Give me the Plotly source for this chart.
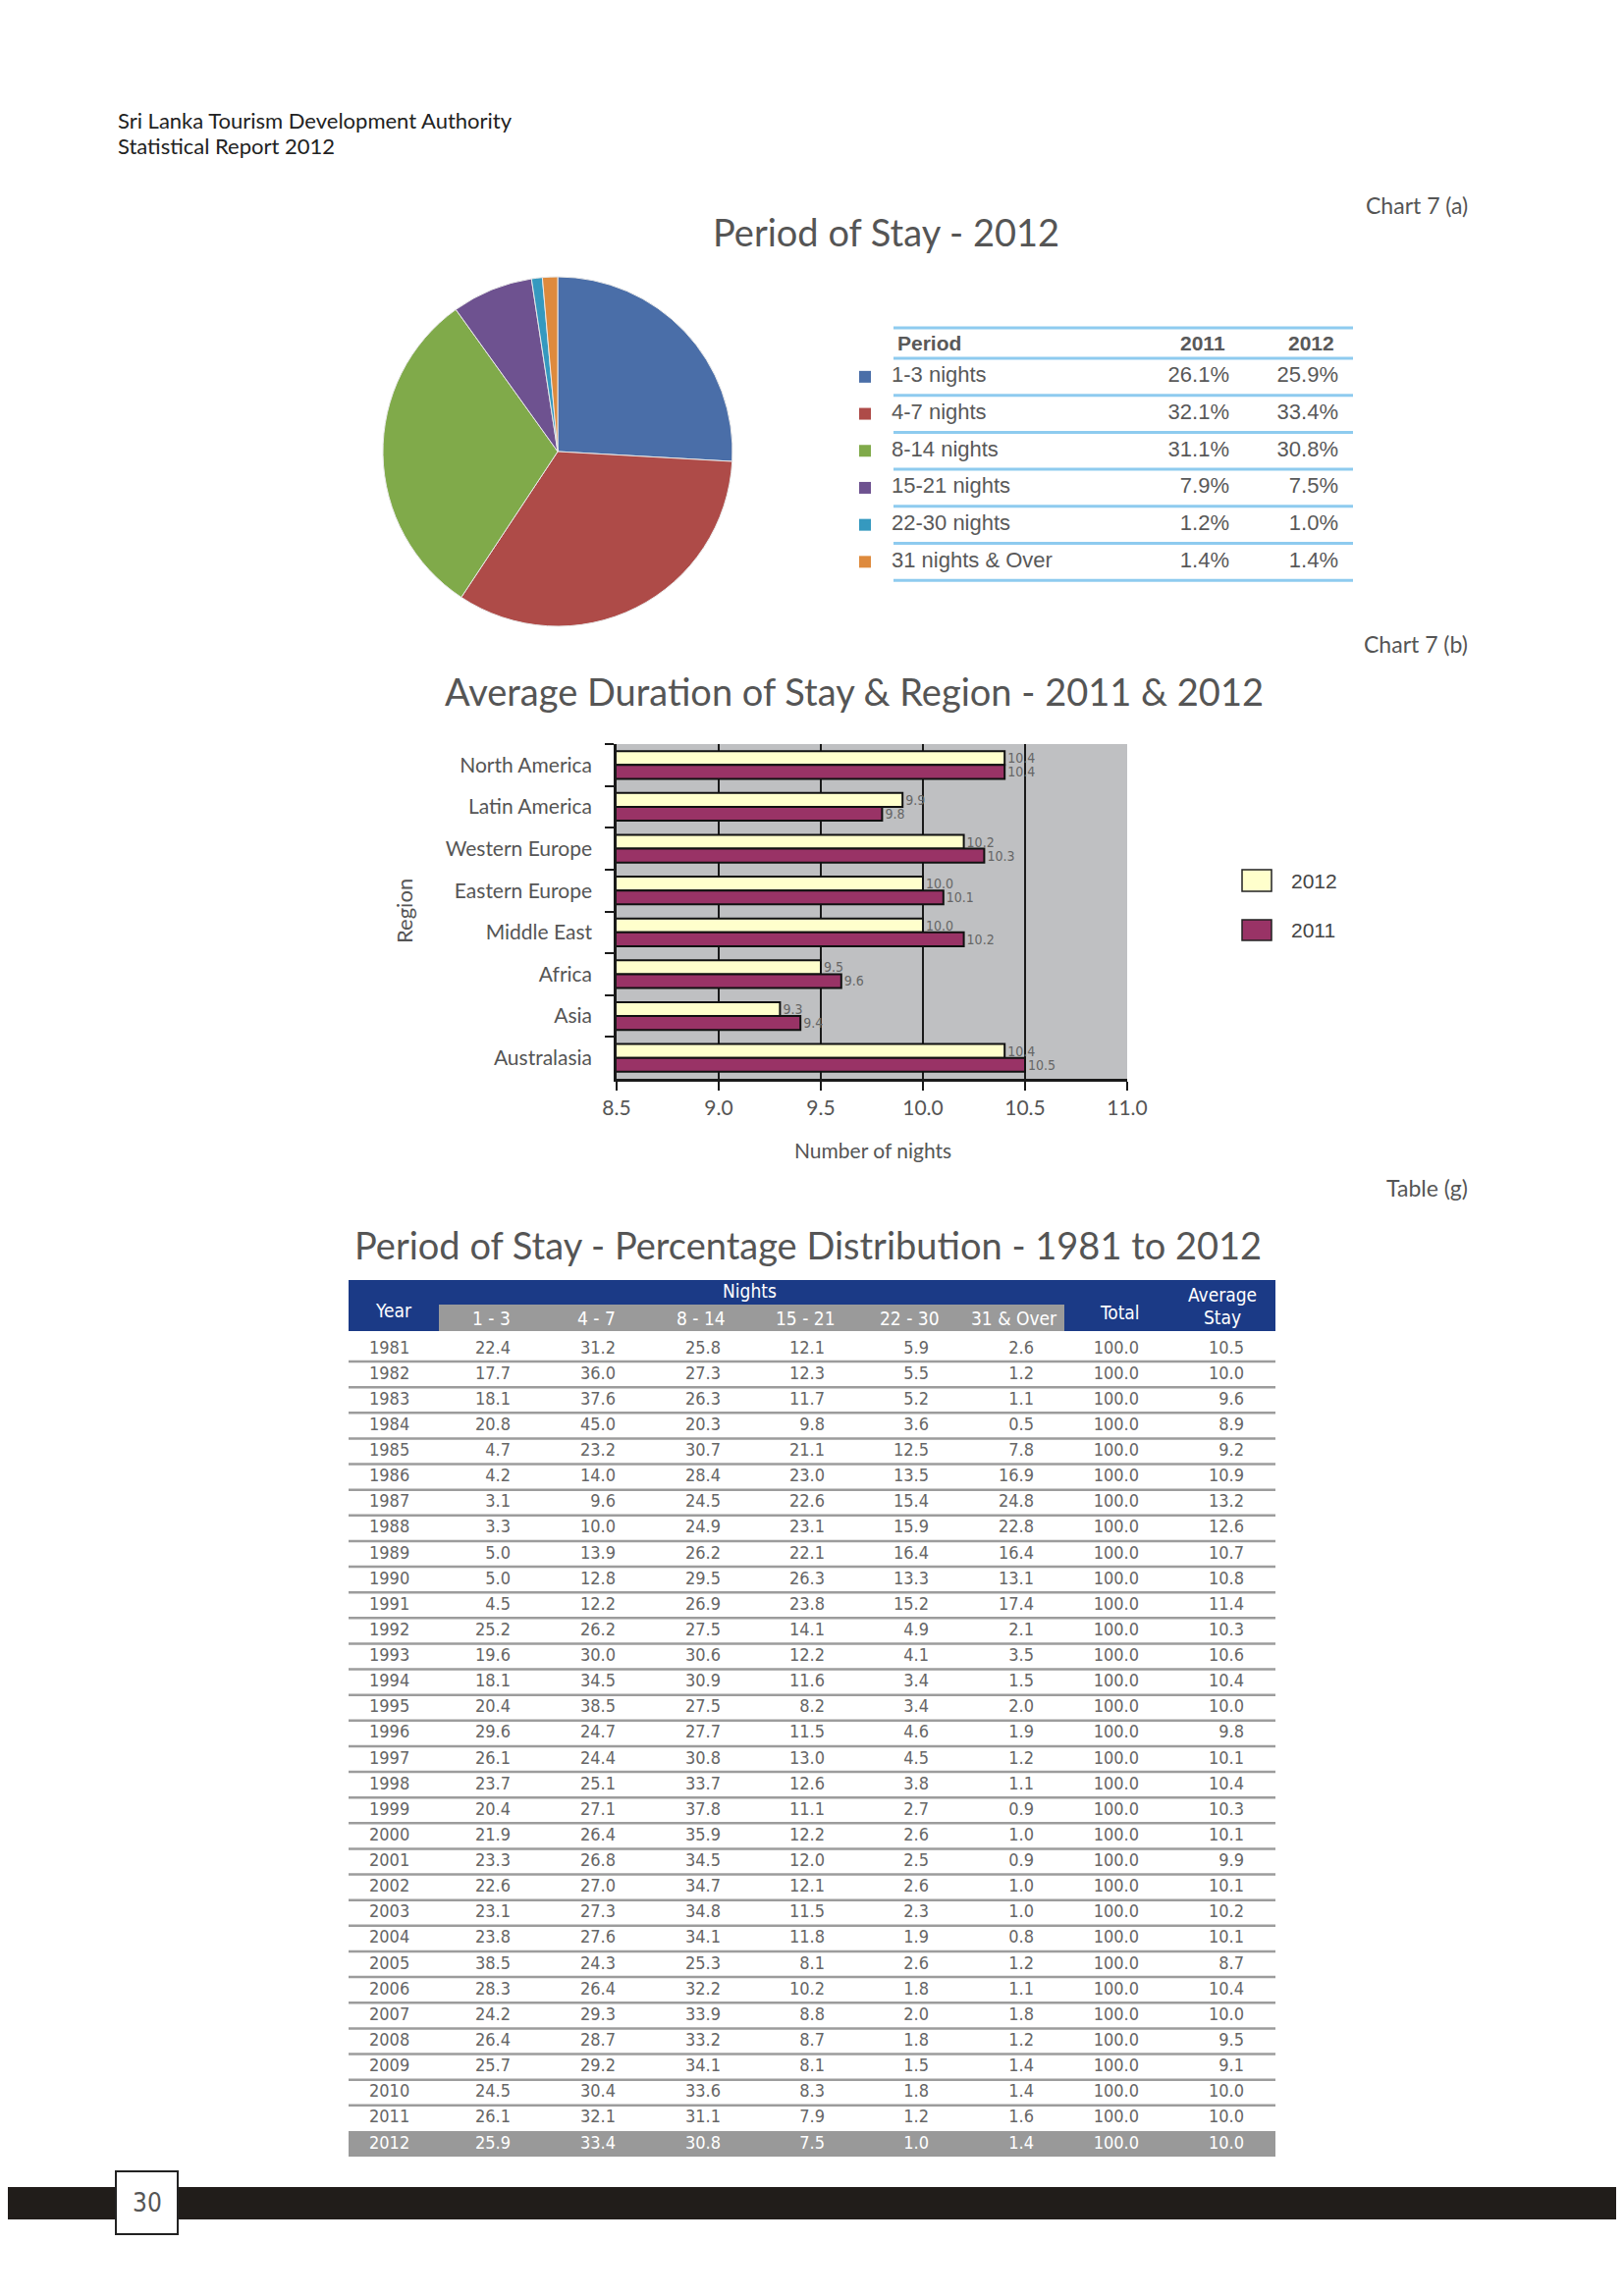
import plotly.graph_objects as go

# ---------------- data ----------------
periods = ["1-3 nights", "4-7 nights", "8-14 nights", "15-21 nights", "22-30 nights", "31 nights & Over"]
share_2011 = [26.1, 32.1, 31.1, 7.9, 1.2, 1.4]
share_2012 = [25.9, 33.4, 30.8, 7.5, 1.0, 1.4]
period_colors = ["#4A6EA8", "#AE4B48", "#80AA4A", "#6E5290", "#3599BF", "#DE8A3D"]

regions = ["North America", "Latin America", "Western Europe", "Eastern Europe",
           "Middle East", "Africa", "Asia", "Australasia"]
stay_2012 = [10.4, 9.9, 10.2, 10.0, 10.0, 9.5, 9.3, 10.4]
stay_2011 = [10.4, 9.8, 10.3, 10.1, 10.2, 9.6, 9.4, 10.5]

years = [1981, 1982, 1983, 1984, 1985, 1986, 1987, 1988, 1989, 1990, 1991, 1992, 1993, 1994, 1995, 1996,
         1997, 1998, 1999, 2000, 2001, 2002, 2003, 2004, 2005, 2006, 2007, 2008, 2009, 2010, 2011, 2012]
n1_3 = [22.4, 17.7, 18.1, 20.8, 4.7, 4.2, 3.1, 3.3, 5.0, 5.0, 4.5, 25.2, 19.6, 18.1, 20.4, 29.6,
        26.1, 23.7, 20.4, 21.9, 23.3, 22.6, 23.1, 23.8, 38.5, 28.3, 24.2, 26.4, 25.7, 24.5, 26.1, 25.9]
n4_7 = [31.2, 36.0, 37.6, 45.0, 23.2, 14.0, 9.6, 10.0, 13.9, 12.8, 12.2, 26.2, 30.0, 34.5, 38.5, 24.7,
        24.4, 25.1, 27.1, 26.4, 26.8, 27.0, 27.3, 27.6, 24.3, 26.4, 29.3, 28.7, 29.2, 30.4, 32.1, 33.4]
n8_14 = [25.8, 27.3, 26.3, 20.3, 30.7, 28.4, 24.5, 24.9, 26.2, 29.5, 26.9, 27.5, 30.6, 30.9, 27.5, 27.7,
         30.8, 33.7, 37.8, 35.9, 34.5, 34.7, 34.8, 34.1, 25.3, 32.2, 33.9, 33.2, 34.1, 33.6, 31.1, 30.8]
n15_21 = [12.1, 12.3, 11.7, 9.8, 21.1, 23.0, 22.6, 23.1, 22.1, 26.3, 23.8, 14.1, 12.2, 11.6, 8.2, 11.5,
          13.0, 12.6, 11.1, 12.2, 12.0, 12.1, 11.5, 11.8, 8.1, 10.2, 8.8, 8.7, 8.1, 8.3, 7.9, 7.5]
n22_30 = [5.9, 5.5, 5.2, 3.6, 12.5, 13.5, 15.4, 15.9, 16.4, 13.3, 15.2, 4.9, 4.1, 3.4, 3.4, 4.6,
          4.5, 3.8, 2.7, 2.6, 2.5, 2.6, 2.3, 1.9, 2.6, 1.8, 2.0, 1.8, 1.5, 1.8, 1.2, 1.0]
n31_over = [2.6, 1.2, 1.1, 0.5, 7.8, 16.9, 24.8, 22.8, 16.4, 13.1, 17.4, 2.1, 3.5, 1.5, 2.0, 1.9,
            1.2, 1.1, 0.9, 1.0, 0.9, 1.0, 1.0, 0.8, 1.2, 1.1, 1.8, 1.2, 1.4, 1.4, 1.6, 1.4]
total = [100.0, 100.0, 100.0, 100.0, 100.0, 100.0, 100.0, 100.0, 100.0, 100.0, 100.0, 100.0, 100.0, 100.0, 100.0, 100.0,
         100.0, 100.0, 100.0, 100.0, 100.0, 100.0, 100.0, 100.0, 100.0, 100.0, 100.0, 100.0, 100.0, 100.0, 100.0, 100.0]
avg_stay = [10.5, 10.0, 9.6, 8.9, 9.2, 10.9, 13.2, 12.6, 10.7, 10.8, 11.4, 10.3, 10.6, 10.4, 10.0, 9.8,
            10.1, 10.4, 10.3, 10.1, 9.9, 10.1, 10.2, 10.1, 8.7, 10.4, 10.0, 9.5, 9.1, 10.0, 10.0, 10.0]
night_bands = ["1 - 3", "4 - 7", "8 - 14", "15 - 21", "22 - 30", "31 & Over"]

# ---------------- page geometry (screen pixels) ----------------
PAGE_W, PAGE_H = 1654, 2339
OFF = 8  # body margin round the figure
W, H = PAGE_W - 2 * OFF, PAGE_H - 2 * OFF  # figure fits the window exactly
LATO = "Lato, Open Sans, sans-serif"
NARROW = "Liberation Sans Narrow, DejaVu Sans Condensed, sans-serif"
ARIAL = "Liberation Sans, Arial, sans-serif"
GREY = "#555555"


def dom_x(a, b):
    return [(a - OFF) / W, (b - OFF) / W]


def dom_y(a, b):
    return [1 - (b - OFF) / H, 1 - (a - OFF) / H]


fig = go.Figure()
annotations = []
shapes = []


def label(x, y, s, size, color=GREY, family=LATO, anchor="center", angle=0):
    annotations.append(dict(x=x, y=y, xref="x", yref="y", text=s, showarrow=False,
                            xanchor=anchor, yanchor="middle", textangle=angle,
                            font=dict(size=size, color=color, family=family)))


def rect(x0, y0, x1, y1, fill, line_color=None, line_width=0):
    shapes.append(dict(type="rect", xref="x", yref="y", x0=x0, y0=y0, x1=x1, y1=y1,
                       fillcolor=fill, line=dict(color=line_color or fill, width=line_width),
                       layer="below"))


def hline(x0, x1, y, color, width):
    shapes.append(dict(type="line", xref="x", yref="y", x0=x0, x1=x1, y0=y, y1=y,
                       line=dict(color=color, width=width), layer="below"))


# page header / captions
label(118, 122, "Sri Lanka Tourism Development Authority", 22, "#222222", anchor="left")
label(118, 148, "Statistical Report 2012", 22, "#222222", anchor="left")
label(1497, 209, "Chart 7 (a)", 23, anchor="right")
label(1497, 656, "Chart 7 (b)", 23, anchor="right")
label(1497, 1210, "Table (g)", 23, anchor="right")
label(902, 236, "Period of Stay - 2012", 38)
label(870, 704, "Average Duration of Stay & Region - 2011 & 2012", 38)
label(823, 1268, "Period of Stay - Percentage Distribution - 1981 to 2012", 38)

# ---------------- pie ----------------
cx, cy, r = 568, 460, 178
fig.add_trace(go.Pie(labels=periods, values=share_2012, sort=False, direction="clockwise", rotation=0,
                     marker=dict(colors=period_colors, line=dict(color="#E8E8E8", width=1)),
                     textinfo="none", hoverinfo="label+percent",
                     domain=dict(x=dom_x(cx - r, cx + r), y=dom_y(cy - r, cy + r))))

# pie legend table
lt_left, lt_right = 910, 1378
lt_top, lt_head = 334, 365
lt_pitch = 37.7
row_c = [lt_head + lt_pitch * (i + 0.5) for i in range(len(periods))]
hline(lt_left, lt_right, lt_top, "#8ECBEF", 3)
hline(lt_left, lt_right, lt_head, "#8ECBEF", 3)
for yc in row_c:
    hline(lt_left, lt_right, yc + lt_pitch / 2, "#8ECBEF", 3)
label(912, 349, "<b>Period</b>", 21, "#595959", ARIAL, "left")
label(1250, 349, "<b>2011</b>", 21, "#595959", ARIAL, "right")
label(1361, 349, "<b>2012</b>", 21, "#595959", ARIAL, "right")

fig.add_trace(go.Scatter(x=[881] * len(periods), y=row_c, mode="markers", hoverinfo="skip",
                         marker=dict(symbol="square", size=12, color=period_colors),
                         xaxis="x", yaxis="y"))
fig.add_trace(go.Scatter(x=[908] * len(periods), y=row_c, mode="text", text=periods,
                         textposition="middle right", hoverinfo="skip",
                         textfont=dict(family=ARIAL, size=22, color="#595959")))
for vals, xr in ((share_2011, 1252), (share_2012, 1363)):
    fig.add_trace(go.Scatter(x=[xr] * len(vals), y=row_c, mode="text",
                             text=[f"{v:.1f}%" for v in vals], textposition="middle left",
                             hoverinfo="skip", textfont=dict(family=ARIAL, size=22, color="#595959")))

# ---------------- bar chart ----------------
bar_x0, bar_x1, bar_y0, bar_y1 = 628, 1148, 758, 1099
shapes.append(dict(type="rect", xref="x2 domain", yref="y2 domain", x0=0, x1=1, y0=0, y1=1,
                   fillcolor="#BFC0C2", line=dict(width=0), layer="below"))
fig.add_trace(go.Bar(y=regions, x=stay_2012, orientation="h", name="2012", xaxis="x2", yaxis="y2",
                     marker=dict(color="#FFFFCC", line=dict(color="#111111", width=2)),
                     text=[f"{v:.1f}" for v in stay_2012], textposition="outside", constraintext="none",
                     textfont=dict(family=NARROW, size=14, color="#666666")))
fig.add_trace(go.Bar(y=regions, x=stay_2011, orientation="h", name="2011", xaxis="x2", yaxis="y2",
                     marker=dict(color="#993366", line=dict(color="#111111", width=2)),
                     text=[f"{v:.1f}" for v in stay_2011], textposition="outside", constraintext="none",
                     textfont=dict(family=NARROW, size=14, color="#666666")))
label(411, 928, "Region", 22, angle=-90)
label(889, 1171, "Number of nights", 21)

# bar legend
rect(1265, 886, 1295, 908, "#FFFFCC", "#222222", 1.5)
rect(1265, 937, 1295, 958, "#993366", "#222222", 1.5)
label(1313, 897, "2012", 21, "#444444", ARIAL, "left")
label(1313, 947, "2011", 21, "#444444", ARIAL, "left")

# ---------------- data table ----------------
tb_left, tb_right = 355, 1299
rect(tb_left, 1304, tb_right, 1356, "#1B3A86")
rect(447, 1329, 1084, 1356, "#9A9A9A")
col_right = [520, 627, 734, 840, 946, 1053, 1160, 1267]
label(401, 1335, "Year", 19, "white", NARROW)
label(763, 1315, "Nights", 19, "white", NARROW)
for band, xr in zip(night_bands, col_right):
    label(xr - 20, 1343, band, 19, "white", NARROW)
label(1140, 1337, "Total", 19, "white", NARROW)
label(1245, 1319, "Average", 19, "white", NARROW)
label(1245, 1342, "Stay", 19, "white", NARROW)

pitch = 26.13
rows_y = [1374 + pitch * i for i in range(len(years))]
for yc in rows_y[:-2]:
    hline(tb_left, tb_right, yc + 13, "#9C9C9C", 2.5)
rect(tb_left, rows_y[-1] - 13, tb_right, rows_y[-1] + 13, "#999999")
text_colors = ["#666666"] * (len(years) - 1) + ["white"]

fig.add_trace(go.Scatter(x=[376] * len(years), y=rows_y, mode="text", text=[str(y) for y in years],
                         textposition="middle right", hoverinfo="skip",
                         textfont=dict(family=NARROW, size=18, color=text_colors)))
for vals, xr in zip([n1_3, n4_7, n8_14, n15_21, n22_30, n31_over, total, avg_stay], col_right):
    fig.add_trace(go.Scatter(x=[xr] * len(vals), y=rows_y, mode="text",
                             text=[f"{v:.1f}" for v in vals], textposition="middle left",
                             hoverinfo="skip", textfont=dict(family=NARROW, size=18, color=text_colors)))

# ---------------- footer ----------------
rect(0, 2228, PAGE_W, 2261, "#211D1A")
shapes.append(dict(type="rect", xref="x", yref="y", x0=118, x1=181, y0=2212, y1=2276,
                   fillcolor="white", line=dict(color="#222222", width=2), layer="above"))
label(150, 2244, "30", 26, GREY, NARROW)

fig.update_layout(
    width=W, height=H, autosize=False, margin=dict(l=0, r=0, t=0, b=0, pad=0, autoexpand=False),
    paper_bgcolor="white", plot_bgcolor="rgba(0,0,0,0)", showlegend=False,
    barmode="group", bargap=0.34, bargroupgap=0,
    xaxis=dict(domain=[0, 1], range=[OFF, OFF + W], visible=False, fixedrange=True),
    yaxis=dict(domain=[0, 1], range=[OFF + H, OFF], visible=False, fixedrange=True),
    xaxis2=dict(domain=dom_x(bar_x0, bar_x1), anchor="y2", range=[8.5, 11], dtick=0.5, tickformat=".1f",
                showgrid=True, gridcolor="#1A1A1A", gridwidth=1.5, zeroline=False,
                showline=True, linecolor="#1A1A1A", linewidth=2.5,
                ticks="outside", ticklen=9, tickwidth=2, tickcolor="#1A1A1A",
                tickfont=dict(family=LATO, size=21, color=GREY)),
    yaxis2=dict(domain=dom_y(bar_y0, bar_y1), anchor="x2", type="category", autorange="reversed",
                showgrid=False, showline=True, linecolor="#1A1A1A", linewidth=2.5,
                ticks="outside", tickson="boundaries", ticklen=9, tickwidth=2, tickcolor="#1A1A1A",
                ticklabelstandoff=18, tickfont=dict(family=LATO, size=21, color=GREY)),
    annotations=annotations, shapes=shapes,
)

fig.write_html("out.html", config=dict(displayModeBar=False, responsive=False))
